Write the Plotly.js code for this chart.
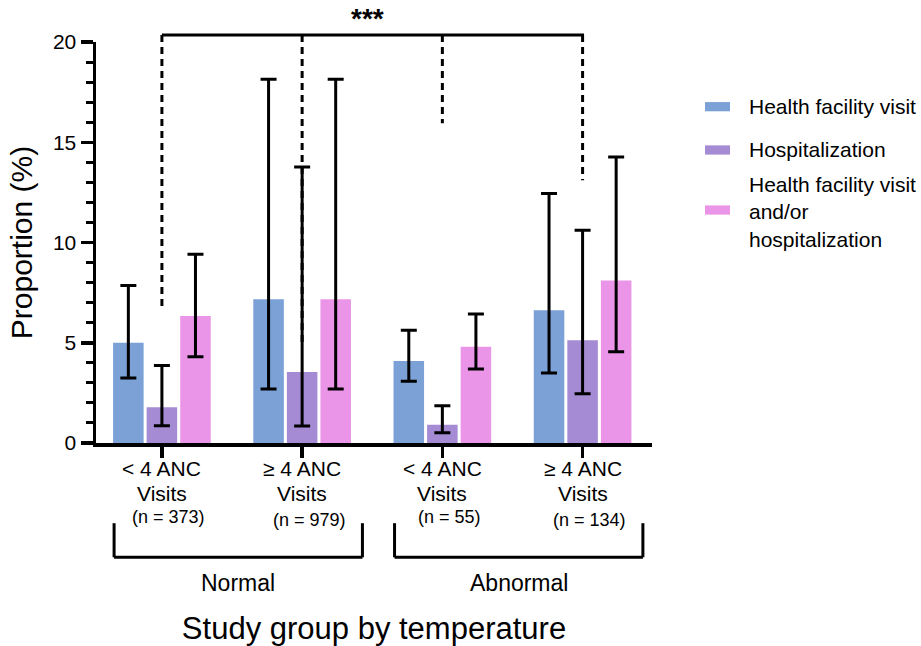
<!DOCTYPE html>
<html>
<head>
<meta charset="utf-8">
<script src="https://cdn.plot.ly/plotly-3.0.1.min.js"></script>
<style>
  html, body { margin: 0; padding: 0; background: #ffffff; }
  #chart { width: 921px; height: 646px; }
</style>
</head>
<body>
<div id="chart"></div>
<script>
// ---- Data ----
const categories = ['< 4 ANC', '≥ 4 ANC', '< 4 ANC', '≥ 4 ANC'];
const categorySecondLine = ['Visits', 'Visits', 'Visits', 'Visits'];
const sampleSizes = [373, 979, 55, 134];
const groups = ['Normal', 'Abnormal'];
const groupMembers = [[0, 1], [2, 3]];

const seriesNames = ['Health facility visit', 'Hospitalization', 'Health facility visit<br>and/or<br>hospitalization'];
const seriesColors = ['#7ba1d6', '#a58bd3', '#ea95e8'];

const healthVisit      = [5.00, 7.17, 4.09, 6.62];
const healthVisitUpper = [7.85, 18.14, 5.62, 12.45];
const healthVisitLower = [3.24, 2.69, 3.08, 3.49];

const hospitalization      = [1.78, 3.54, 0.91, 5.12];
const hospitalizationUpper = [3.86, 13.77, 1.86, 10.61];
const hospitalizationLower = [0.86, 0.85, 0.51, 2.46];

const either      = [6.33, 7.17, 4.80, 8.11];
const eitherUpper = [9.41, 18.14, 6.43, 14.26];
const eitherLower = [4.30, 2.69, 3.69, 4.55];

// significance bracket: drop-line lower ends (in % units) per category
const sigDropEnds = [6.6, 4.8, 15.95, 13.1];
const sigLabel = '***';

const yMax = 20;

// ---- Build ----
const FONT = '"Liberation Sans", Arial, Helvetica, sans-serif';
const xIdx = categories.map((_, i) => i);

const seriesVals = [healthVisit, hospitalization, either];
const seriesUp = [healthVisitUpper, hospitalizationUpper, eitherUpper];
const seriesLo = [healthVisitLower, hospitalizationLower, eitherLower];

const traces = seriesVals.map((vals, s) => ({
  type: 'bar',
  name: seriesNames[s],
  x: xIdx,
  y: vals,
  marker: { color: seriesColors[s], line: { width: 0 } },
  error_y: {
    type: 'data',
    symmetric: false,
    array: vals.map((v, i) => seriesUp[s][i] - v),
    arrayminus: vals.map((v, i) => v - seriesLo[s][i]),
    color: '#000000',
    thickness: 3,
    width: 8
  },
  showlegend: false,
  hoverinfo: 'y'
}));

const py = v => v / yMax; // value -> paper (y range starts at 0)

const shapes = [];
const annotations = [];

// significance bracket
const sigTop = 1.0175;
shapes.push({ type: 'line', xref: 'x', yref: 'paper', x0: 0, x1: xIdx[xIdx.length - 1] + 0.01, y0: sigTop, y1: sigTop,
  line: { color: '#000', width: 3 } });
sigDropEnds.forEach((v, i) => {
  shapes.push({ type: 'line', xref: 'x', yref: 'paper', x0: xIdx[i], x1: xIdx[i], y0: sigTop, y1: py(v),
    line: { color: '#000', width: 3, dash: '7px,5px' } });
});
annotations.push({ xref: 'x', yref: 'paper', x: 1.466, y: 1.058, text: sigLabel, showarrow: false,
  font: { family: FONT, size: 28, color: '#000', weight: 'bold' }, xanchor: 'center', yanchor: 'middle' });

// category labels
xIdx.forEach(i => {
  annotations.push({ xref: 'x', yref: 'paper', x: i, y: -0.0648, text: categories[i], showarrow: false,
    font: { family: FONT, size: 21, color: '#000' }, xanchor: 'center', yanchor: 'middle' });
  annotations.push({ xref: 'x', yref: 'paper', x: i, y: -0.1247, text: categorySecondLine[i], showarrow: false,
    font: { family: FONT, size: 21, color: '#000' }, xanchor: 'center', yanchor: 'middle' });
  annotations.push({ xref: 'x', yref: 'paper', x: i, xshift: 7, y: (i % 2 === 0) ? -0.1845 : -0.192,
    text: '(n = ' + sampleSizes[i] + ')', showarrow: false,
    font: { family: FONT, size: 18, color: '#000' }, xanchor: 'center', yanchor: 'middle' });
});

// group brackets
const brTop = -0.2, brBot = -0.285;
groupMembers.forEach((m, g) => {
  const a = xIdx[m[0]] - 0.341;
  const b = xIdx[m[m.length - 1]] + 0.43;
  [[a, brTop, a, brBot], [a, brBot, b, brBot], [b, brBot, b, brTop]].forEach(c => {
    shapes.push({ type: 'line', xref: 'x', yref: 'paper', x0: c[0], y0: c[1], x1: c[2], y1: c[3],
      line: { color: '#000', width: 3 } });
  });
  annotations.push({ xref: 'x', yref: 'paper', x: (a + b) / 2, y: -0.348, text: groups[g], showarrow: false,
    font: { family: FONT, size: 23, color: '#000' }, xanchor: 'center', yanchor: 'middle' });
});

// legend (manual, to match swatch shape)
const legY = [0.8387, 0.7307, 0.5768];
const legRectY = [0.8387, 0.7307, 0.581];
seriesNames.forEach((n, s) => {
  shapes.push({ type: 'rect', xref: 'paper', yref: 'paper', x0: 1.0953, x1: 1.1403,
    y0: legRectY[s] - 0.0115, y1: legRectY[s] + 0.0115, fillcolor: seriesColors[s], line: { width: 0 } });
  annotations.push({ xref: 'paper', yref: 'paper', x: 1.1705, y: legY[s], text: n, showarrow: false, align: 'left',
    font: { family: FONT, size: 21, color: '#000' }, xanchor: 'left', yanchor: 'middle' });
});

const layout = {
  width: 921, height: 646,
  margin: { l: 96, r: 269, t: 42, b: 203 },
  paper_bgcolor: '#ffffff', plot_bgcolor: '#ffffff',
  font: { family: FONT, color: '#000' },
  barmode: 'group', bargap: 0.282, bargroupgap: 0.09,
  showlegend: false,
  xaxis: {
    type: 'linear', range: [-0.47, 3.495],
    tickvals: xIdx, showticklabels: false,
    ticks: 'outside', ticklen: 11, tickwidth: 3.5, tickcolor: '#000',
    showline: true, linewidth: 3.5, linecolor: '#000',
    showgrid: false, zeroline: false,
    title: { text: 'Study group by temperature', font: { family: FONT, size: 31, color: '#000' }, standoff: 165 }
  },
  yaxis: {
    range: [0, yMax], tick0: 0, dtick: 5,
    ticks: 'outside', ticklen: 12, tickwidth: 3.5, tickcolor: '#000',
    minor: { dtick: 1, ticks: 'outside', ticklen: 7, tickwidth: 3, tickcolor: '#000', showgrid: false },
    showline: true, linewidth: 3.5, linecolor: '#000',
    showgrid: false, zeroline: false,
    tickfont: { family: FONT, size: 21, color: '#000' },
    title: { text: 'Proportion (%)', font: { family: FONT, size: 30, color: '#000' }, standoff: 12 }
  },
  shapes: shapes,
  annotations: annotations
};

Plotly.newPlot('chart', traces, layout, { staticPlot: true, displayModeBar: false });
</script>
</body>
</html>
